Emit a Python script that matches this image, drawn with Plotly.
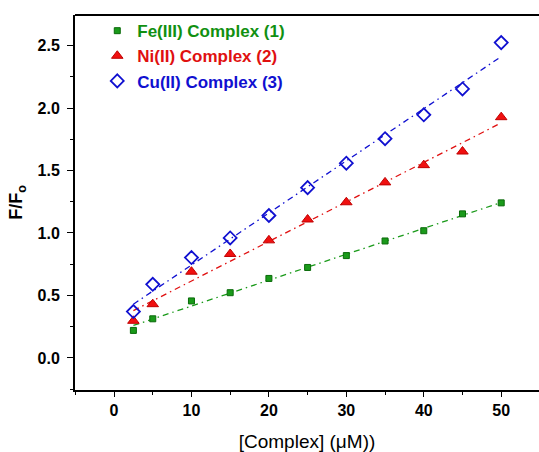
import numpy as np
import plotly.graph_objects as go

conc = [2.5, 5, 10, 15, 20, 25, 30, 35, 40, 45, 50]
fe_vals = [0.22, 0.313, 0.456, 0.522, 0.636, 0.724, 0.819, 0.936, 1.018, 1.153, 1.241]
ni_vals = [0.297, 0.43, 0.69, 0.832, 0.941, 1.108, 1.246, 1.405, 1.543, 1.652, 1.927]
cu_vals = [0.371, 0.589, 0.803, 0.96, 1.14, 1.363, 1.559, 1.755, 1.946, 2.153, 2.524]

names = ["Fe(III) Complex (1)", "Ni(II) Complex (2)", "Cu(II) Complex (3)"]
line_colors = ["#1a9a1a", "#e01010", "#1010d0"]
text_colors = ["#119011", "#e01010", "#1010d0"]
x_ticks = [0, 10, 20, 30, 40, 50]
y_ticks = [0.0, 0.5, 1.0, 1.5, 2.0, 2.5]

markers = [
    dict(symbol="square", size=6, color="#1a9a1a", line=dict(color="#0a6a0a", width=1)),
    dict(symbol="triangle-up", size=10, color="#f01010", line=dict(color="#c00000", width=1)),
    dict(symbol="diamond-open", size=10, color="#1010d0", line=dict(color="#1010d0", width=1.8)),
]

fig = go.Figure()
series = [fe_vals, ni_vals, cu_vals]
xa = np.array(conc)
for vals, c in zip(series, line_colors):
    k, b = np.polyfit(xa, np.array(vals), 1)
    xs = [conc[0], conc[-1]]
    fig.add_trace(go.Scatter(x=xs, y=[k * v + b for v in xs], mode="lines",
                             line=dict(color=c, width=1.3, dash="6px,4px,1.5px,4px"),
                             showlegend=False, hoverinfo="skip"))
for vals, nm, m, tc in zip(series, names, markers, text_colors):
    fig.add_trace(go.Scatter(x=conc, y=vals, mode="markers", marker=m,
                             name=f"<span style='color:{tc}'><b>{nm}</b></span>"))

fig.update_layout(
    width=539, height=452,
    margin=dict(l=75, r=0, t=15, b=60),
    paper_bgcolor="white", plot_bgcolor="white",
    font=dict(family="Liberation Sans, Arial, sans-serif", color="black"),
    legend=dict(x=0.048, y=1.005, xanchor="left", yanchor="top",
                bgcolor="rgba(0,0,0,0)", font=dict(size=17, family="Liberation Sans, Arial"),
                tracegroupgap=0),
    xaxis=dict(range=[-5.04, 54.88], showgrid=False, zeroline=False,
               showline=True, linecolor="black", linewidth=2, mirror=False,
               ticks="outside", ticklen=5, tickwidth=1, tickcolor="black",
               tickvals=x_ticks, ticktext=[str(v) for v in x_ticks],
               tickfont=dict(size=16, family="Liberation Sans, Arial", weight="bold"),
               minor=dict(ticks="outside", ticklen=3, dtick=5, tick0=0, tickcolor="black"),
               title=dict(text="[Complex] (μM))", font=dict(size=19), standoff=19)),
    yaxis=dict(range=[-0.257, 2.745], showgrid=False, zeroline=False,
               showline=True, linecolor="black", linewidth=2,
               ticks="outside", ticklen=6, tickwidth=1, tickcolor="black",
               tickvals=y_ticks, ticktext=[f"{v:.1f}" for v in y_ticks],
               tickfont=dict(size=16, family="Liberation Sans, Arial", weight="bold"),
               ticklabelstandoff=4,
               minor=dict(ticks="outside", ticklen=3, dtick=0.25, tick0=0, tickcolor="black"),
               title=dict(text="<b>F/F<sub>o</sub></b>", font=dict(size=18), standoff=10)),
)
# top frame line
fig.add_shape(type="line", xref="paper", yref="paper", x0=0, x1=1, y0=1, y1=1,
              line=dict(color="black", width=2))

fig.write_html("out.html")
